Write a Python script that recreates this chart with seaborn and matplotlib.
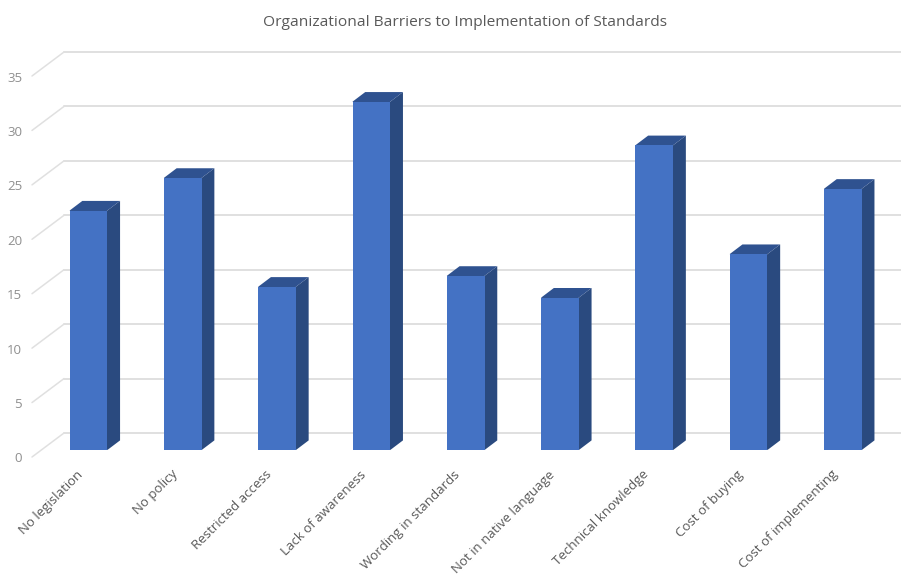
import matplotlib
matplotlib.use("Agg")
import matplotlib.pyplot as plt
from matplotlib.patches import Polygon
from matplotlib.transforms import Affine2D, IdentityTransform
import seaborn as sns
import numpy as np

categories = ["No legislation", "No policy", "Restricted access", "Lack of awareness",
              "Wording in standards", "Not in native language", "Technical knowledge",
              "Cost of buying", "Cost of implementing"]
values = [22, 25, 15, 32, 16, 14, 28, 18, 24]
y_ticks = [0, 5, 10, 15, 20, 25, 30, 35]
title = "Organizational Barriers to Implementation of Standards"

W, H = 901, 574
FRONT, SIDE, TOP = "#4472C4", "#2A4A7F", "#2F5290"
GRID, TXT, YTXT = "#E0E0E0", "#595959", "#8F8F8F"
DX, DY = 12.7, 9.6          # bar depth, px
WALL_DY, AXIS_DY = 17, -7   # back wall and front edge relative to bar base, px
WALL_X, AXIS_X = 64, 32     # px
SEAM = 1                    # px of overlap hidden behind the front face

sns.set_theme(style="white")
plt.rcParams["font.family"] = ["Open Sans", "DejaVu Sans"]

fig = plt.figure(figsize=(W / 100, H / 100), dpi=100, facecolor="white")
L, R, B, T = AXIS_X, W, H - 450, H - 69
ax = fig.add_axes([L / W, B / H, (R - L) / W, (T - B) / H])

sns.barplot(x=categories, y=values, color=FRONT, saturation=1, width=0.4, ax=ax,
            zorder=3, linewidth=0, edgecolor="none")

x0, step = 88.5, 94.3
ax.set_xlim((L - x0) / step, (R - x0) / step)
ax.set_ylim(0, 35)
ax.set_yticks(y_ticks)
sns.despine(ax=ax, left=True, bottom=True)
ax.grid(False)
ax.set_facecolor("none")
ax.tick_params(axis="both", length=0)
ax.set_xlabel("")
ax.set_ylabel("")

# walls and floor diagonals
for v in y_ticks:
    _, py = ax.transData.transform((0, v))
    ax.plot([WALL_X, W], [py + WALL_DY] * 2, color=GRID, lw=1.4,
            transform=IdentityTransform(), clip_on=False, zorder=1)
    ax.plot([AXIS_X, WALL_X], [py + AXIS_DY, py + WALL_DY], color=GRID, lw=1.1,
            transform=IdentityTransform(), clip_on=False, zorder=1)

# 3D side and top of every bar
for p in list(ax.patches):
    (xa, ya), (xb, yb) = ax.transData.transform(
        [(p.get_x(), p.get_y()), (p.get_x() + p.get_width(), p.get_y() + p.get_height())])
    ax.add_patch(Polygon([(xb - SEAM, ya + SEAM), (xb, ya), (xb + DX, ya + DY),
                          (xb + DX, yb + DY), (xb, yb), (xb - SEAM, yb - SEAM)],
                         closed=True, fc=SIDE, ec="none", transform=IdentityTransform(),
                         clip_on=False, zorder=2.4))
    ax.add_patch(Polygon([(xa + SEAM, yb - SEAM), (xa, yb), (xa + DX, yb + DY),
                          (xb + DX, yb + DY), (xb, yb), (xb - SEAM, yb - SEAM)],
                         closed=True, fc=TOP, ec="none", transform=IdentityTransform(),
                         clip_on=False, zorder=2.5))

for lab in ax.get_yticklabels():
    lab.set_transform(lab.get_transform() + Affine2D().translate(-5, AXIS_DY - 0.5))
    lab.set_fontsize(9.5)
    lab.set_color(YTXT)

ax.set_xticks(range(len(categories)))
ax.set_xticklabels(categories, rotation=45, ha="right", va="top",
                   rotation_mode="anchor", fontsize=9.5, color=TXT)
for lab in ax.get_xticklabels():
    lab.set_transform(lab.get_transform() + Affine2D().translate(-12, -13))

fig.text(465 / W, 1 - 23 / H, title, ha="center", va="center", fontsize=11.15, color=TXT)

fig.savefig("out.png", dpi=100)
